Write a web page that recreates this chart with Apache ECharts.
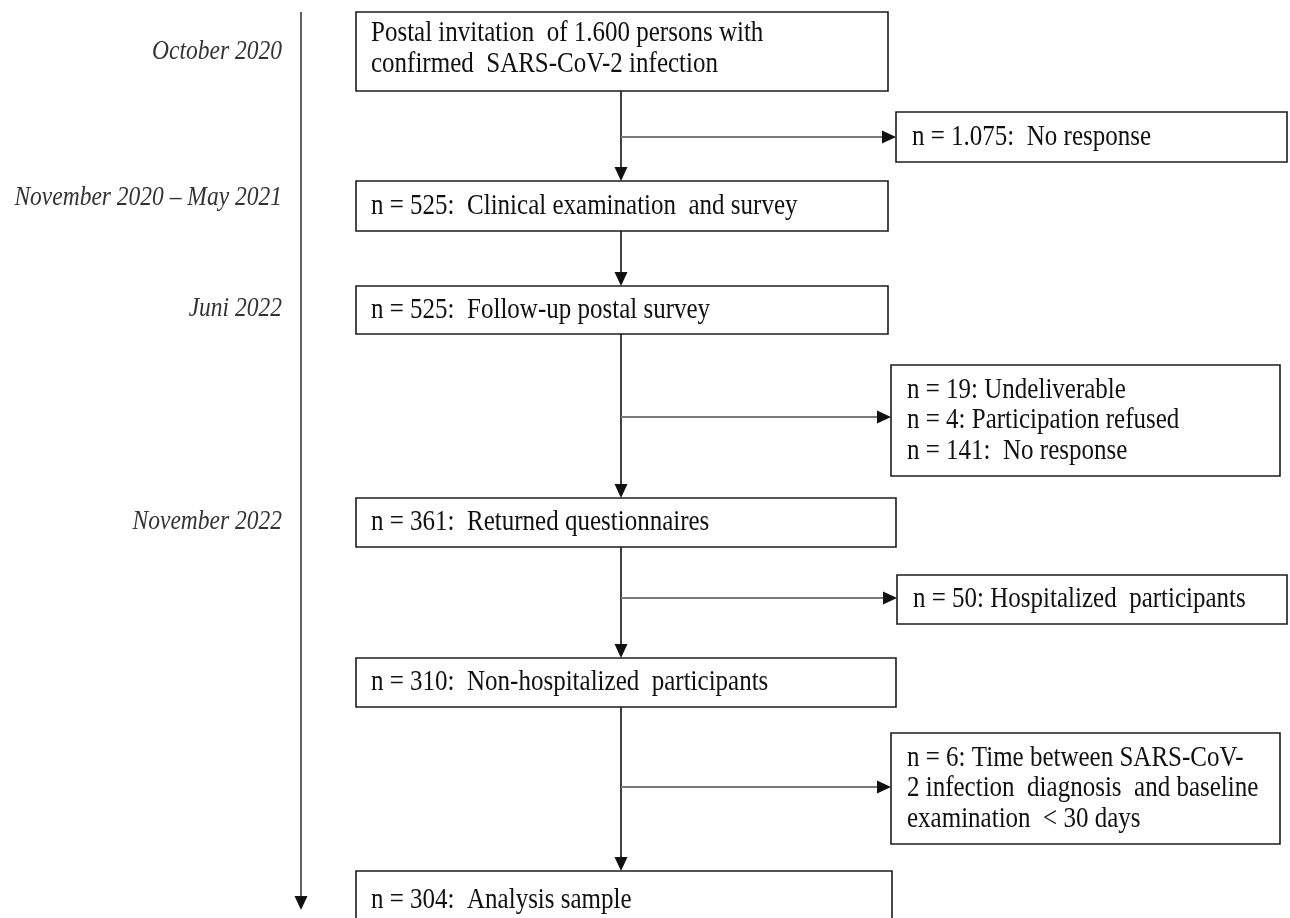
<!DOCTYPE html>
<html>
<head>
<meta charset="utf-8">
<style>
  html, body { margin: 0; padding: 0; background: #ffffff; }
  #chart { width: 1290px; height: 918px; }
</style>
<script src="https://cdn.jsdelivr.net/npm/echarts@6/dist/echarts.min.js"></script>
</head>
<body>
<div id="chart"></div>
<script>
// ---- Diagram data (diagram units on hidden value axes) ----
const stepLabels = [
  'Postal invitation  of 1.600 persons with\nconfirmed  SARS-CoV-2 infection',
  'n = 525:  Clinical examination  and survey',
  'n = 525:  Follow-up postal survey',
  'n = 361:  Returned questionnaires',
  'n = 310:  Non-hospitalized  participants',
  'n = 304:  Analysis sample'
];
const stepLeft   = [356, 356, 356, 356, 356, 356];
const stepRight  = [888, 888, 888, 896, 896, 892];
const stepTop    = [12, 181, 286, 498, 658, 871];
const stepBottom = [91, 231, 334, 547, 707, 930];

const exclusionLabels = [
  'n = 1.075:  No response',
  'n = 19: Undeliverable\nn = 4: Participation refused\nn = 141:  No response',
  'n = 50: Hospitalized  participants',
  'n = 6: Time between SARS-CoV-\n2 infection  diagnosis  and baseline\nexamination  < 30 days'
];
const exclusionLeft   = [896, 891, 897, 891];
const exclusionRight  = [1287, 1280, 1287, 1280];
const exclusionTop    = [112, 365, 575, 733];
const exclusionBottom = [162, 476, 624, 844];
const exclusionArrowY = [137, 417, 598, 787];

const flowX = 621;

const timeLabels = ['October 2020', 'November 2020 \u2013 May 2021', 'Juni 2022', 'November 2022'];
const timeY = [52, 198, 309, 522];
const timelineX = 301;
const timelineStart = 12;
const timelineEnd = 910;

// ---- Build series data from arrays ----
const stepData = stepLabels.map((_, i) => [stepLeft[i], stepTop[i], stepRight[i], stepBottom[i]]);
const exclusionData = exclusionLabels.map((_, i) => [exclusionLeft[i], exclusionTop[i], exclusionRight[i], exclusionBottom[i]]);

// vertical flow arrows: from bottom of step i to top of step i+1
const downArrowData = [];
for (let i = 0; i < stepLabels.length - 1; i++) {
  downArrowData.push([flowX, stepBottom[i], flowX, stepTop[i + 1]]);
}
// side arrows: from flow line to exclusion box
const sideArrowData = exclusionLabels.map((_, i) => [flowX, exclusionArrowY[i], exclusionLeft[i], exclusionArrowY[i]]);
const timelineData = [[timelineX, timelineStart, timelineX, timelineEnd]];
const timeLabelData = timeLabels.map((_, i) => [timelineX, timeY[i]]);

const SERIF = '"Liberation Serif", "Times New Roman", serif';
const STRETCH = 1.2;

function boxRenderer(labels, pad, lift) {
  return function (params, api) {
    const a = api.coord([api.value(0), api.value(1)]);
    const b = api.coord([api.value(2), api.value(3)]);
    const txt = labels[params.dataIndex];
    const multi = txt.indexOf('\n') >= 0;
    return {
      type: 'group',
      children: [
        {
          type: 'rect',
          shape: { x: a[0], y: a[1], width: b[0] - a[0], height: b[1] - a[1] },
          style: { fill: '#ffffff', stroke: '#1c1c1c', lineWidth: 1.6 }
        },
        {
          type: 'text',
          x: a[0] + pad,
          y: (a[1] + b[1]) / 2 - (multi ? lift : 0),
          scaleY: STRETCH,
          style: {
            text: txt,
            fontFamily: SERIF,
            fontSize: 25,
            lineHeight: 25.5,
            fill: '#111111',
            align: 'left',
            verticalAlign: 'middle'
          }
        }
      ]
    };
  };
}

function arrowRenderer(lineColor, lineWidth, headLen, headHalf, headColor) {
  return function (params, api) {
    const p0 = api.coord([api.value(0), api.value(1)]);
    const p1 = api.coord([api.value(2), api.value(3)]);
    const dx = p1[0] - p0[0], dy = p1[1] - p0[1];
    const len = Math.sqrt(dx * dx + dy * dy) || 1;
    const ux = dx / len, uy = dy / len;
    const bx = p1[0] - ux * headLen, by = p1[1] - uy * headLen;
    const nx = -uy, ny = ux;
    return {
      type: 'group',
      children: [
        {
          type: 'line',
          shape: { x1: p0[0], y1: p0[1], x2: bx, y2: by },
          style: { stroke: lineColor, lineWidth: lineWidth }
        },
        {
          type: 'polygon',
          shape: { points: [[p1[0], p1[1]], [bx + nx * headHalf, by + ny * headHalf], [bx - nx * headHalf, by - ny * headHalf]] },
          style: { fill: headColor }
        }
      ]
    };
  };
}

function timeLabelRenderer(params, api) {
  const p = api.coord([api.value(0), api.value(1)]);
  return {
    type: 'text',
    x: p[0] - 19,
    y: p[1],
    scaleY: STRETCH,
    style: {
      text: timeLabels[params.dataIndex],
      fontFamily: SERIF,
      fontStyle: 'italic',
      fontSize: 23.5,
      fill: '#333333',
      align: 'right',
      verticalAlign: 'middle'
    }
  };
}

const chart = echarts.init(document.getElementById('chart'), null, { renderer: 'canvas' });
chart.setOption({
  backgroundColor: '#ffffff',
  animation: false,
  grid: { left: 0, right: 0, top: 0, bottom: 0 },
  xAxis: { type: 'value', min: 0, max: 1290, show: false },
  yAxis: { type: 'value', min: 0, max: 918, inverse: true, show: false },
  series: [
    {
      type: 'custom', name: 'timeline', coordinateSystem: 'cartesian2d',
      renderItem: arrowRenderer('#3a3a3a', 1.6, 14, 6.5, '#111111'),
      data: timelineData, silent: true
    },
    {
      type: 'custom', name: 'periods', coordinateSystem: 'cartesian2d',
      renderItem: timeLabelRenderer, data: timeLabelData, silent: true
    },
    {
      type: 'custom', name: 'steps', coordinateSystem: 'cartesian2d',
      renderItem: boxRenderer(stepLabels, 15, 3), data: stepData, silent: true
    },
    {
      type: 'custom', name: 'exclusions', coordinateSystem: 'cartesian2d',
      renderItem: boxRenderer(exclusionLabels, 16, 0), data: exclusionData, silent: true
    },
    {
      type: 'custom', name: 'flow', coordinateSystem: 'cartesian2d',
      renderItem: arrowRenderer('#111111', 1.6, 14, 6.5, '#111111'),
      data: downArrowData, silent: true
    },
    {
      type: 'custom', name: 'side', coordinateSystem: 'cartesian2d',
      renderItem: arrowRenderer('#7a7a7a', 2.2, 14, 6.5, '#111111'),
      data: sideArrowData, silent: true
    }
  ]
});
</script>
</body>
</html>
